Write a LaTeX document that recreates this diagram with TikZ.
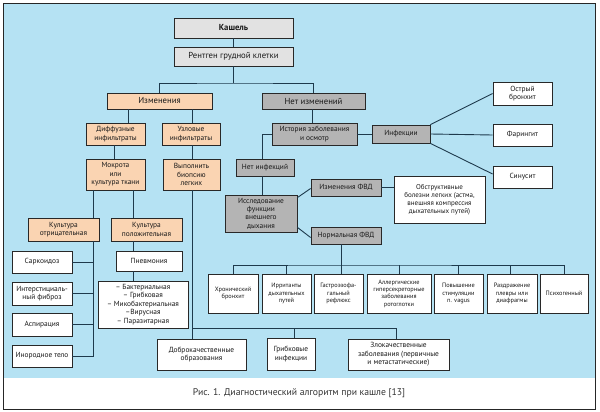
\documentclass[tikz,border=0pt]{standalone}
\usepackage{fontspec}
\setmainfont{PT Sans}
\definecolor{bgblue}{RGB}{181,226,243}
\definecolor{peach}{RGB}{250,212,178}
\definecolor{gboxc}{RGB}{180,180,180}
\definecolor{lgray}{RGB}{226,226,226}
\definecolor{linec}{RGB}{30,58,76}
\definecolor{borderc}{RGB}{40,40,40}
\newcommand\bx[7]{\node[#6, minimum width={#4-#2}, minimum height={#5-#3}] (#1) at ({(#2+#4)/2},{(#3+#5)/2}) {#7};}
\begin{document}
\begin{tikzpicture}[x=1pt,y=-1pt,
  boxbase/.style={draw=borderc, line width=0.8pt, inner sep=0pt, align=center, text=black!90},
  fbig/.style={font=\fontsize{8.7}{10}\selectfont},
  fmid/.style={font=\fontsize{7.4}{8.4}\selectfont},
  fobs/.style={font=\fontsize{7}{8}\selectfont},
  fsml/.style={font=\fontsize{6.3}{7.3}\selectfont},
  topbox/.style={boxbase, fill=lgray, fbig},
  pbox/.style={boxbase, fill=peach, fmid},
  pbig/.style={boxbase, fill=peach, fbig},
  gbox/.style={boxbase, fill=gboxc, fmid},
  gbig/.style={boxbase, fill=gboxc, fbig},
  wbox/.style={boxbase, fill=white, fmid},
  obox/.style={boxbase, fill=white, fobs},
  sbox/.style={boxbase, fill=white, fsml},
  conn/.style={draw=linec, line width=0.9pt}
]
\useasboundingbox (0,0) rectangle (600,412);
% frame
\fill[white] (3,3) rectangle (595,409);
\fill[bgblue] (3,3) rectangle (595,378);
\draw[black!85, line width=0.9pt] (3,3) rectangle (595,409);
\node[font=\fontsize{9.7}{11}\selectfont, text=black!80] (cap) at (299,393) {Рис. 1. Диагностический алгоритм при кашле [13]};

% nodes
\bx{kash}{174}{18}{293}{38}{topbox}{\bfseries Кашель}
\bx{rent}{174}{47}{293}{66}{topbox}{Рентген грудной клетки}
\bx{izm}{107}{93}{212}{109}{pbig}{Изменения}
\bx{net}{262}{93}{365}{109}{gbig}{Нет изменений}
\bx{dif}{86}{123}{145}{145}{pbox}{Диффузные\\инфильтраты}
\bx{uzl}{162}{123}{220}{145}{pbox}{Узловые\\инфильтраты}
\bx{mok}{86}{159}{145}{190}{pbox}{Мокрота\\или\\культура ткани}
\bx{bio}{163}{159}{220}{190}{pbox}{Выполнить\\биопсию\\легких}
\bx{kneg}{28}{218}{99}{241}{pbox}{Культура\\отрицательная}
\bx{kpos}{111}{218}{182}{241}{pbox}{Культура\\положительная}
\bx{sark}{12}{251}{72}{273}{wbox}{Саркоидоз}
\bx{fib}{12}{282}{72}{305}{wbox}{Интерстициаль-\\ный фиброз}
\bx{asp}{12}{313}{72}{336}{wbox}{Аспирация}
\bx{ino}{12}{345}{72}{367}{wbox}{Инородное тело}
\bx{pnev}{116}{251}{182}{271}{wbox}{Пневмония}
\bx{lst}{98}{281}{188}{328}{wbox}{– Бактериальная\\– Грибковая\\– Микобактериальная\\–Вирусная\\– Паразитарная}
\bx{dobr}{157}{339}{246}{370}{wbox}{Доброкачественные\\образования}
\bx{grib}{267}{338}{315}{370}{wbox}{Грибковые\\инфекции}
\bx{zlo}{348}{339}{449}{370}{wbox}{Злокачественные\\заболевания (первичные\\и метастатические)}
\bx{ist}{272}{123}{357}{145}{gbox}{История заболевания\\и осмотр}
\bx{inf}{372}{125}{430}{143}{gbox}{Инфекции}
\bx{ostr}{493}{82}{552}{105}{wbox}{Острый\\бронхит}
\bx{far}{493}{124}{552}{146}{wbox}{Фарингит}
\bx{sin}{493}{166}{552}{188}{wbox}{Синусит}
\bx{netinf}{236}{159}{294}{176}{gbox}{Нет инфекций}
\bx{iss}{225}{195}{297}{232}{gbox}{Исследование\\функции\\внешнего\\дыхания}
\bx{ifvd}{311}{179}{381}{196}{gbox}{Изменения ФВД}
\bx{nfvd}{311}{227}{381}{244}{gbox}{Нормальная ФВД}
\bx{obs}{394}{176}{485}{223}{obox}{Обструктивные\\болезни легких (астма,\\внешняя компрессия\\дыхательных путей)}
\bx{b1}{208}{274}{258}{313}{sbox}{Хронический\\бронхит}
\bx{b2}{262}{274}{311}{313}{sbox}{Ирританты\\дыхательных\\путей}
\bx{b3}{314}{274}{363}{313}{sbox}{Гастроэзофа-\\гальный\\рефлюкс}
\bx{b4}{367}{274}{431}{313}{sbox}{Аллергические\\гиперсекреторные\\заболевания\\ротоглотки}
\bx{b5}{434}{274}{483}{313}{sbox}{Повышение\\стимуляции\\n. vagus}
\bx{b6}{487}{274}{537}{313}{sbox}{Раздражение\\плевры или\\диафрагмы}
\bx{b7}{540}{274}{588}{313}{sbox}{Психогенный}

% junctions
\coordinate (j1) at (233.5,83);
\coordinate (j2) at (192,328);
\coordinate (j3) at (341,265);

% connectors
\draw[conn] (kash.south) -- (rent.north);
\draw[conn] (rent.south) -- (j1);
\draw[conn] (izm.north) |- (j1) -| (net.north);
\draw[conn] (izm.south -| 128,0) -- (dif.north -| 128,0);
\draw[conn] (izm.south -| 192,0) -- (uzl.north -| 192,0);
\draw[conn] (dif.south -| 114,0) -- (mok.north -| 114,0);
\draw[conn] (uzl.south -| 192,0) -- (bio.north -| 192,0);
\draw[conn] (mok.south -| 93,0) -- (kneg.north -| 93,0);
\draw[conn] (kneg.south -| 93,0) |- (ino.east);
\draw[conn] (sark.east) -- (sark.east -| 93,0);
\draw[conn] (fib.east) -- (fib.east -| 93,0);
\draw[conn] (asp.east) -- (asp.east -| 93,0);
\draw[conn] (mok.south -| 133,0) -- (kpos.north -| 133,0);
\draw[conn] (kpos.south -| 133,0) -- (pnev.north -| 133,0);
\draw[conn] (pnev.south -| 133,0) -- (lst.north -| 133,0);
\draw[conn] (bio.south -| j2) -- (dobr.north -| j2);
\draw[conn] (j2) -| (zlo.north -| 396,0);
\draw[conn] (grib.north -| 294,0) -- (j2 -| 294,0);
\draw[conn] (net.south -| 312,0) -- (ist.north -| 312,0);
\draw[conn] (ist.east) -- (inf.west);
\draw[conn] (inf.north east) -- (ostr.west);
\draw[conn] (inf.east) -- (far.west);
\draw[conn] (inf.south east) -- ([yshift=3pt]sin.west);
\draw[conn] (ist.west) -| (netinf.north -| 262,0);
\draw[conn] (netinf.south -| 262,0) -- (iss.north -| 262,0);
\draw[conn] ([yshift=-3pt]iss.north east) -- ([yshift=-1pt]ifvd.west);
\draw[conn] ([yshift=5pt]iss.south east) -- ([yshift=-2pt]nfvd.west);
\draw[conn] (ifvd.east) -- (ifvd.east -| obs.west);
\draw[conn] (nfvd.south -| j3) -- (b3.north -| j3);
\draw[conn] (b1.north) |- (j3) -| (b7.north);
\draw[conn] (b2.north) -- (b2.north |- j3);
\draw[conn] (b4.north) -- (b4.north |- j3);
\draw[conn] (b5.north) -- (b5.north |- j3);
\draw[conn] (b6.north -| 510,0) -- (j3 -| 510,0);
\end{tikzpicture}
\end{document}
